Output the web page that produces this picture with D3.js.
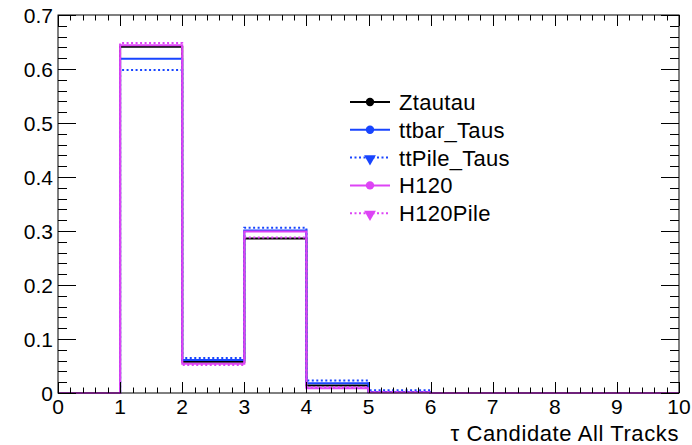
<!DOCTYPE html>
<html>
<head>
<meta charset="utf-8">
<script src="https://cdn.jsdelivr.net/npm/d3@7"></script>
<style>
  html, body { margin: 0; padding: 0; background: #fff; }
  svg { display: block; font-family: "Liberation Sans", Arial, Helvetica, sans-serif; }
</style>
</head>
<body>
<svg id="chart" width="692" height="445"></svg>
<script>
// Bin edges of the track-multiplicity histogram (0..10, unit bins)
const binEdges = [0, 1, 2, 3, 4, 5, 6, 7, 8, 9, 10];

// Normalised contents per bin for each sample
const ztautau    = [0, 0.641, 0.058, 0.286, 0.014, 0.002, 0, 0, 0, 0];
const ttbarTaus  = [0, 0.619, 0.061, 0.301, 0.018, 0.002, 0, 0, 0, 0];
const ttPileTaus = [0, 0.598, 0.065, 0.306, 0.023, 0.005, 0, 0, 0, 0];
const h120       = [0, 0.644, 0.054, 0.299, 0.009, 0.001, 0, 0, 0, 0];
const h120Pile   = [0, 0.648, 0.052, 0.288, 0.011, 0.002, 0, 0, 0, 0];

const seriesNames = ["Ztautau", "ttbar_Taus", "ttPile_Taus", "H120", "H120Pile"];
const xTickLabels = ["0", "1", "2", "3", "4", "5", "6", "7", "8", "9", "10"];
const yTickLabels = ["0", "0.1", "0.2", "0.3", "0.4", "0.5", "0.6", "0.7"];
const xTitle = "\u03C4 Candidate All Tracks";

const series = [
  { name: seriesNames[0], values: ztautau,    color: "#000000", dash: null,  marker: "circle" },
  { name: seriesNames[1], values: ttbarTaus,  color: "#1845ff", dash: null,  marker: "circle" },
  { name: seriesNames[2], values: ttPileTaus, color: "#1845ff", dash: "2,2.5", marker: "triangle" },
  { name: seriesNames[3], values: h120,       color: "#dd44f5", dash: null,  marker: "circle" },
  { name: seriesNames[4], values: h120Pile,   color: "#dd44f5", dash: "2,2.5", marker: "triangle" }
];

const svg = d3.select("#chart");
const frame = { left: 58, right: 679, top: 15, bottom: 393 };

const x = d3.scaleLinear().domain([0, 10]).range([frame.left, frame.right]);
const y = d3.scaleLinear().domain([0, 0.7]).range([frame.bottom, frame.top]);

// Histogram outlines (step lines), drawn in sample order
const stepLine = d3.line()
  .x(d => x(d[0]))
  .y(d => y(d[1]))
  .curve(d3.curveStepAfter);

series.forEach(s => {
  const pts = s.values.map((v, i) => [binEdges[i], v]);
  pts.push([binEdges[binEdges.length - 1], s.values[s.values.length - 1]]);
  svg.append("path")
    .attr("d", stepLine(pts))
    .attr("fill", "none")
    .attr("stroke", s.color)
    .attr("stroke-width", 2)
    .attr("stroke-dasharray", s.dash);
});

// Frame
svg.append("rect")
  .attr("x", frame.left).attr("y", frame.top)
  .attr("width", frame.right - frame.left)
  .attr("height", frame.bottom - frame.top)
  .attr("fill", "none").attr("stroke", "#000").attr("stroke-width", 1);

// Axes: major ticks with labels, minor ticks in between, mirrored on opposite sides
const xMajor = d3.range(0, 11, 1);
const xMinor = d3.range(0, 10.001, 0.2).filter(v => Math.abs(v - Math.round(v)) > 1e-6);
const yMajor = d3.range(0, 0.7001, 0.1);
const yMinor = d3.range(0, 0.7001, 0.02).filter(v => Math.abs(v * 10 - Math.round(v * 10)) > 1e-6);

const ticks = svg.append("g").attr("stroke", "#000").attr("stroke-width", 1);
const XMAJ = 11, XMIN = 5.5, YMAJ = 18, YMIN = 9;

xMajor.forEach(v => {
  const px = Math.round(x(v)) + 0.5;
  ticks.append("line").attr("x1", px).attr("x2", px).attr("y1", frame.bottom).attr("y2", frame.bottom - XMAJ);
  ticks.append("line").attr("x1", px).attr("x2", px).attr("y1", frame.top).attr("y2", frame.top + XMAJ);
});
xMinor.forEach(v => {
  const px = Math.round(x(v)) + 0.5;
  ticks.append("line").attr("x1", px).attr("x2", px).attr("y1", frame.bottom).attr("y2", frame.bottom - XMIN);
  ticks.append("line").attr("x1", px).attr("x2", px).attr("y1", frame.top).attr("y2", frame.top + XMIN);
});
yMajor.forEach(v => {
  const py = Math.round(y(v)) + 0.5;
  ticks.append("line").attr("x1", frame.left).attr("x2", frame.left + YMAJ).attr("y1", py).attr("y2", py);
  ticks.append("line").attr("x1", frame.right).attr("x2", frame.right - YMAJ).attr("y1", py).attr("y2", py);
});
yMinor.forEach(v => {
  const py = Math.round(y(v)) + 0.5;
  ticks.append("line").attr("x1", frame.left).attr("x2", frame.left + YMIN).attr("y1", py).attr("y2", py);
  ticks.append("line").attr("x1", frame.right).attr("x2", frame.right - YMIN).attr("y1", py).attr("y2", py);
});

// Tick labels
const labels = svg.append("g").attr("fill", "#000").attr("font-size", 21);
xTickLabels.forEach((t, i) => {
  labels.append("text")
    .attr("x", x(xMajor[i])).attr("y", 414)
    .attr("text-anchor", "middle").text(t);
});
yTickLabels.forEach((t, i) => {
  labels.append("text")
    .attr("x", 53).attr("y", y(yMajor[i]) + 7.5)
    .attr("text-anchor", "end").text(t);
});

// Axis title
svg.append("text")
  .attr("x", frame.right).attr("y", 441)
  .attr("text-anchor", "end").attr("font-size", 22)
  .attr("letter-spacing", 0.6)
  .text(xTitle);

// Legend
const legend = svg.append("g").attr("transform", "translate(350,102)");
series.forEach((s, i) => {
  const g = legend.append("g").attr("transform", `translate(0,${i * 27.8})`);
  g.append("line")
    .attr("x1", 0).attr("x2", 40).attr("y1", 0).attr("y2", 0)
    .attr("stroke", s.color).attr("stroke-width", 2)
    .attr("stroke-dasharray", s.dash);
  if (s.marker === "circle") {
    g.append("circle").attr("cx", 20).attr("cy", 0).attr("r", 4.2).attr("fill", s.color);
  } else {
    g.append("path")
      .attr("d", d3.symbol().type(d3.symbolTriangle).size(60)())
      .attr("transform", "translate(20,1) rotate(180)")
      .attr("fill", s.color);
  }
  g.append("text")
    .attr("x", 49).attr("y", 8)
    .attr("font-size", 22).attr("fill", "#000")
    .attr("letter-spacing", 0.3)
    .text(s.name);
});
</script>
</body>
</html>
